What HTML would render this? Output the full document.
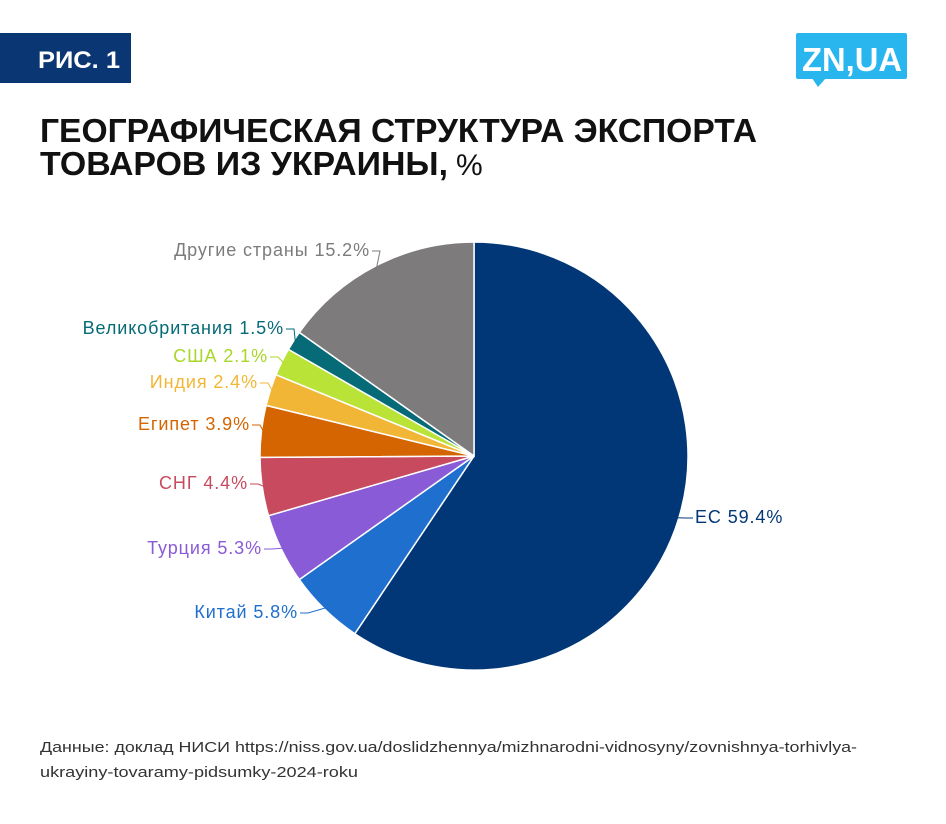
<!DOCTYPE html>
<html><head><meta charset="utf-8"><style>
html,body{margin:0;padding:0;background:#fff;}
svg{display:block;font-family:"Liberation Sans",sans-serif;}
</style></head><body>
<svg id="chart" width="946" height="824" viewBox="0 0 946 824">
<rect x="0" y="33" width="131" height="50" fill="#0a3673"/>
<text x="38" y="68" fill="#fff" font-weight="bold" font-size="24" textLength="82" lengthAdjust="spacingAndGlyphs">РИС. 1</text>
<g>
<rect x="796" y="33" width="111" height="46" rx="2" fill="#29b6ee"/>
<path d="M812 78 L826 78 L818 87 Z" fill="#29b6ee"/>
<text x="802" y="71" fill="#fff" font-weight="bold" font-size="33" textLength="100" lengthAdjust="spacingAndGlyphs">ZN,UA</text>
</g>
<text x="40" y="142" font-weight="bold" font-size="33" fill="#111" textLength="717" lengthAdjust="spacingAndGlyphs">ГЕОГРАФИЧЕСКАЯ СТРУКТУРА ЭКСПОРТА</text>
<text x="40" y="175" font-size="33" fill="#111"><tspan font-weight="bold" textLength="408" lengthAdjust="spacingAndGlyphs">ТОВАРОВ ИЗ УКРАИНЫ,</tspan><tspan dx="8" font-size="30">%</tspan></text>
<g id="pie"></g>
<text x="40" y="752" font-size="15" fill="#333" textLength="817" lengthAdjust="spacingAndGlyphs">Данные: доклад НИСИ https://niss.gov.ua/doslidzhennya/mizhnarodni-vidnosyny/zovnishnya-torhivlya-</text>
<text x="40" y="777" font-size="15" fill="#333" textLength="318" lengthAdjust="spacingAndGlyphs">ukrayiny-tovaramy-pidsumky-2024-roku</text>
</svg>
<script>
const categories = ["ЕС","Китай","Турция","СНГ","Египет","Индия","США","Великобритания","Другие страны"];
const values = [59.4,5.8,5.3,4.4,3.9,2.4,2.1,1.5,15.2];
const colors = ["#023777","#1f6fcf","#8a5bd6","#c84a5e","#d46500","#f2b636","#b9e337","#066a77","#7d7b7c"];
const labelColors = ["#023777","#1f6fcf","#8a5bd6","#c84a5e","#d46500","#f2b636","#a8d62a","#066a77","#7d7b7c"];
// label placement (layout): x anchor, baseline y, anchor
const labelPos = [[695,523,"start"],[298,618,"end"],[262,554,"end"],[248,489,"end"],[250,430,"end"],[258,388,"end"],[268,362,"end"],[284,334,"end"],[370,256,"end"]];
const NS="http://www.w3.org/2000/svg";
const g=document.getElementById('pie');
const cx=474, cy=456, r=214;
const total=values.reduce((a,b)=>a+b,0);
function pt(a,rad){return [cx+rad*Math.sin(a), cy-rad*Math.cos(a)];}
let acc=0;
values.forEach((v,i)=>{
  const a0=acc/total*2*Math.PI; acc+=v; const a1=acc/total*2*Math.PI;
  const p0=pt(a0,r), p1=pt(a1,r);
  const large=(a1-a0)>Math.PI?1:0;
  const path=document.createElementNS(NS,'path');
  path.setAttribute('d',`M${cx},${cy} L${p0[0]},${p0[1]} A${r},${r} 0 ${large} 1 ${p1[0]},${p1[1]} Z`);
  path.setAttribute('fill',colors[i]);
  path.setAttribute('stroke','#fff');
  path.setAttribute('stroke-width','1.5');
  
  
  g.appendChild(path);
  const am=(a0+a1)/2;
  const e=pt(am,r-2);
  const lp=labelPos[i];
  const lx = lp[2]==="end" ? lp[0]+2 : lp[0]-2;
  const ly = lp[1]-5;
  const line=document.createElementNS(NS,'polyline');
  const mid = lp[2]==="end" ? [lx+8,ly] : [lx-8,ly];
  line.setAttribute('points',`${lx},${ly} ${mid[0]},${mid[1]} ${e[0]},${e[1]}`);
  line.setAttribute('fill','none');
  line.setAttribute('stroke',labelColors[i]);
  line.setAttribute('stroke-width','1');
  
  
  g.appendChild(line);
  const t=document.createElementNS(NS,'text');
  t.setAttribute('x',lp[0]); t.setAttribute('y',lp[1]);
  t.setAttribute('text-anchor',lp[2]);
  t.setAttribute('font-size','18');
  t.setAttribute('letter-spacing','0.9');
  t.setAttribute('fill',labelColors[i]);
  t.textContent=categories[i]+' '+v.toFixed(1)+'%';
  
  
  g.appendChild(t);
});
</script>
</body></html>
